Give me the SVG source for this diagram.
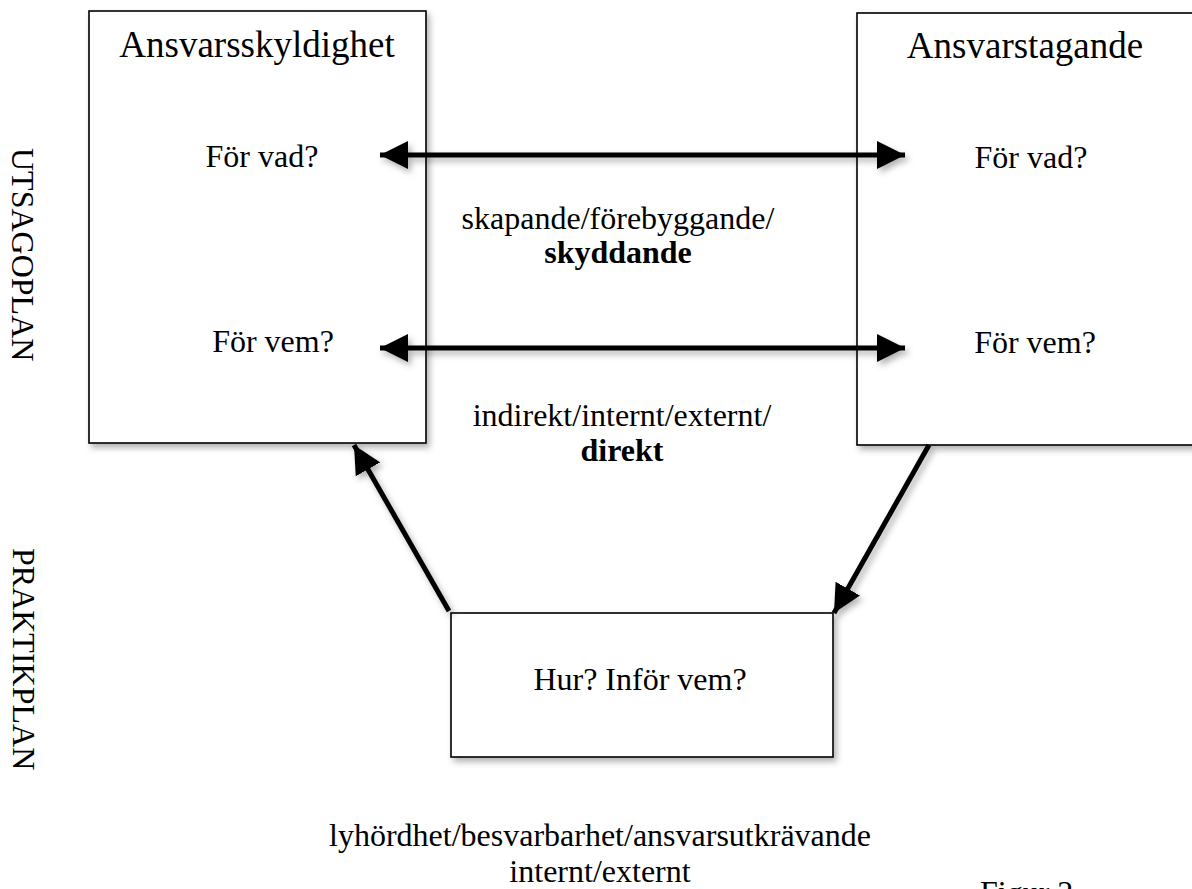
<svg xmlns="http://www.w3.org/2000/svg" width="1192" height="889" viewBox="0 0 1192 889">
<style>
text{font-family:"Liberation Serif","Times New Roman",serif;fill:#000}
.box{fill:#fff;stroke:#000;stroke-width:1.6}
.title{font-size:37px}
.lbl{font-size:32px}
.b{font-weight:bold}
.conn{stroke:#000;stroke-width:5;fill:none}
</style>
<defs>
<filter id="sh" x="-20%" y="-20%" width="140%" height="140%">
<feDropShadow dx="3" dy="4" stdDeviation="3" flood-color="#000" flood-opacity="0.3"/>
</filter>
<marker id="ah" viewBox="0 0 28 28" refX="28" refY="14" markerWidth="28" markerHeight="28" markerUnits="userSpaceOnUse" orient="auto-start-reverse">
<path d="M0,0 L28,14 L0,28 z" fill="#000"/>
</marker>
</defs>

<text x="12" y="148" class="lbl" transform="rotate(90 12 148)">UTSAGOPLAN</text>
<text x="13" y="548" class="lbl" transform="rotate(90 13 548)">PRAKTIKPLAN</text>

<g id="node-ansvarsskyldighet">
<rect class="box" x="89" y="11" width="337" height="432" filter="url(#sh)"/>
<text class="title" x="257" y="57" text-anchor="middle">Ansvarsskyldighet</text>
<text class="lbl" x="262" y="167" text-anchor="middle">För vad?</text>
<text class="lbl" x="273" y="352" text-anchor="middle">För vem?</text>
</g>

<g id="node-ansvarstagande">
<rect class="box" x="857" y="13" width="400" height="432" filter="url(#sh)"/>
<text class="title" x="1025" y="58" text-anchor="middle">Ansvarstagande</text>
<text class="lbl" x="1031" y="168" text-anchor="middle">För vad?</text>
<text class="lbl" x="1035" y="353" text-anchor="middle">För vem?</text>
</g>

<g id="node-hur">
<rect class="box" x="451" y="613" width="382" height="144" filter="url(#sh)"/>
<text class="lbl" x="640" y="690" text-anchor="middle">Hur? Inför vem?</text>
</g>

<g id="connectors" filter="url(#sh)">
<line class="conn" x1="380" y1="155" x2="905" y2="155" marker-start="url(#ah)" marker-end="url(#ah)"/>
<line class="conn" x1="380" y1="348" x2="905" y2="348" marker-start="url(#ah)" marker-end="url(#ah)"/>
<line class="conn" x1="449" y1="611" x2="354" y2="445" marker-end="url(#ah)"/>
<line class="conn" x1="929" y1="445" x2="834" y2="613" marker-end="url(#ah)"/>
</g>

<g id="labels">
<text class="lbl" x="618" y="229" text-anchor="middle">skapande/förebyggande/</text>
<text class="lbl b" x="618" y="263" text-anchor="middle">skyddande</text>
<text class="lbl" x="622" y="426" text-anchor="middle">indirekt/internt/externt/</text>
<text class="lbl b" x="622" y="461" text-anchor="middle">direkt</text>
<text class="lbl" x="600" y="846" text-anchor="middle">lyhördhet/besvarbarhet/ansvarsutkrävande</text>
<text class="lbl" x="600" y="882" text-anchor="middle">internt/externt</text>
<text class="lbl" x="980" y="903">Figur 2</text>
</g>
</svg>
